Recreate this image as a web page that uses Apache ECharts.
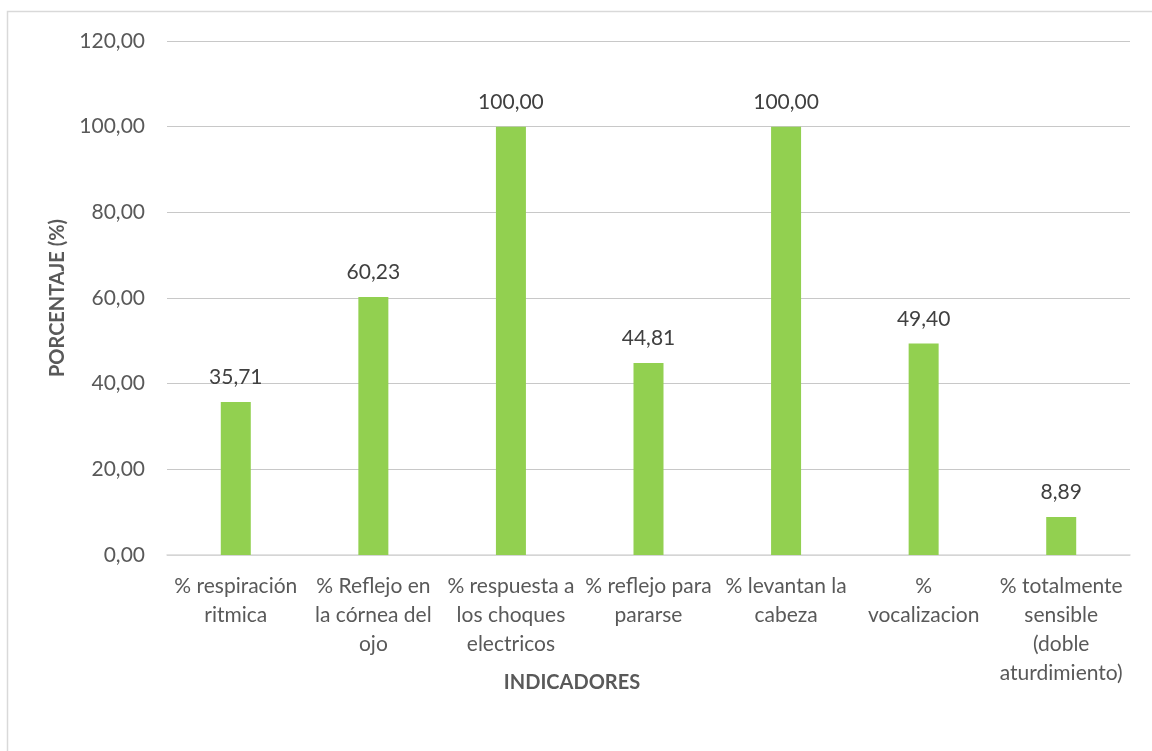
<!DOCTYPE html>
<html><head><meta charset="utf-8">
<script src="https://cdn.jsdelivr.net/npm/echarts@6/dist/echarts.min.js"></script>
<style>html,body{margin:0;padding:0;background:#fff}#c{width:1152px;height:751px}</style>
</head><body><div id="c"></div>
<script>
const categories = [
  "% respiración\nritmica",
  "% Reflejo en\nla córnea del\nojo",
  "% respuesta a\nlos choques\nelectricos",
  "% reflejo para\npararse",
  "% levantan la\ncabeza",
  "%\nvocalizacion",
  "% totalmente\nsensible\n(doble\naturdimiento)"
];
const values = [35.71, 60.23, 100.00, 44.81, 100.00, 49.40, 8.89];
const yTitle = "PORCENTAJE (%)";
const xTitle = "INDICADORES";
const fmt = v => Number(v).toFixed(2).replace('.', ',');
const FONT = "Lato, 'Open Sans', sans-serif";

const chart = echarts.init(document.getElementById('c'), null, {renderer: 'canvas'});
chart.setOption({
  animation: false,
  backgroundColor: '#fff',
  textStyle: {fontFamily: FONT},
  grid: {left: 167, right: 22, top: 41, bottom: 196, containLabel: false},
  graphic: [
    {type: 'rect', shape: {x: 7.5, y: 11.5, width: 1300, height: 900}, style: {fill: 'none', stroke: '#D9D9D9', lineWidth: 1.5}, silent: true},
    {type: 'text', x: 572, y: 683, style: {text: xTitle, font: "bold 20px " + FONT, fill: '#595959', align: 'center', verticalAlign: 'middle'}}
  ],
  xAxis: {
    type: 'category', data: categories,
    axisLine: {show: true, lineStyle: {color: '#D9D9D9', width: 1.5}},
    axisTick: {show: false},
    axisLabel: {color: '#595959', fontSize: 21, lineHeight: 29, margin: 17, interval: 0, fontFamily: FONT}
  },
  yAxis: {
    type: 'value', min: 0, max: 120, interval: 20,
    name: yTitle, nameLocation: 'middle', nameGap: 99, nameRotate: 90,
    nameTextStyle: {color: '#595959', fontSize: 20, fontWeight: 'bold', fontFamily: FONT},
    axisLine: {show: false}, axisTick: {show: false},
    splitLine: {lineStyle: {color: '#C8C8C8', width: 1.2}},
    axisLabel: {color: '#595959', fontSize: 21, margin: 22, formatter: v => fmt(v), fontFamily: FONT}
  },
  series: [{
    type: 'bar', data: values, barWidth: 30,
    itemStyle: {color: '#92D050'},
    label: {show: true, position: 'top', distance: 14, color: '#404040', fontSize: 21, formatter: p => fmt(p.value), fontFamily: FONT}
  }]
});
</script></body></html>
